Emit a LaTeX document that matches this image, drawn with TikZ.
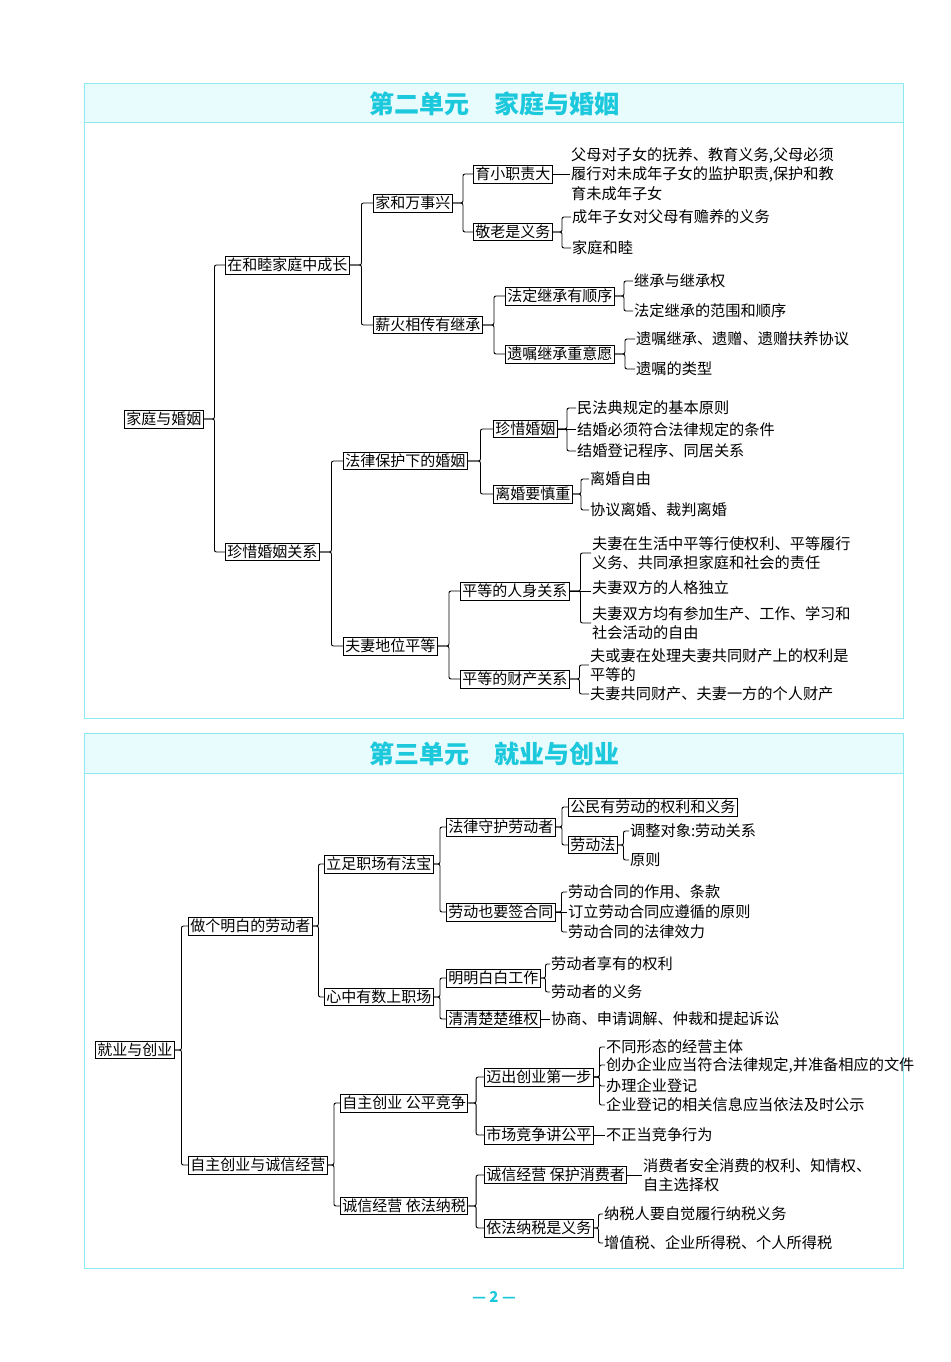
\documentclass[tikz,border=0pt]{standalone}
\usepackage{fontspec}
\setmainfont{Noto Sans CJK SC}
\usetikzlibrary{calc}
\definecolor{cy}{HTML}{1CC8DC}
\definecolor{cyl}{HTML}{8EEAF2}
\definecolor{cyf}{HTML}{E8FBFD}
\tikzset{
 bx/.style={draw,line width=0.9pt,inner xsep=2pt,inner ysep=2pt,anchor=west,font=\fontsize{15}{18}\selectfont},
 lf/.style={inner xsep=1pt,inner ysep=1pt,anchor=west,align=left,font=\fontsize{15.2}{19.5}\selectfont},
 cn/.style={line width=0.9pt,rounded corners=2pt},
}
\newcommand\cnx[2]{\foreach \c in {#2}{\draw[cn] (#1.east) -- ($(#1.east)!0.5!(#1.east -| \c.west)$) |- (\c.west);}}
\newcommand\cnone[2]{\draw[line width=0.9pt] (#1.east) -- (#1.east -| #2.west);}
\begin{document}
\begin{tikzpicture}[x=1pt,y=-1pt]
\useasboundingbox (0,0) rectangle (950,1362);
% frames
\fill[cyf] (84,84) rectangle (903,123);
\draw[cyl,line width=1pt] (84,84) rectangle (903,718) (84,123)--(903,123);
\fill[cyf] (84,733) rectangle (903,773);
\draw[cyl,line width=1pt] (84,733) rectangle (903,1268) (84,773)--(903,773);
\node[text=cy,font=\fontsize{25}{28}\selectfont\bfseries] (t1) at (494,104) {第二单元\quad 家庭与婚姻};
\node[text=cy,font=\fontsize{25}{28}\selectfont\bfseries] (t2) at (494,754) {第三单元\quad 就业与创业};
\node[text=cy,font=\fontsize{15}{18}\selectfont\bfseries] (pg) at (494,1297) {— 2 —};
% section 1
\node[bx] (a) at (124,419) {家庭与婚姻};
\node[bx] (a1) at (225,265) {在和睦家庭中成长};
\node[bx] (a2) at (225,552) {珍惜婚姻关系};
\node[bx] (b1) at (373,203) {家和万事兴};
\node[bx] (b2) at (373,325) {薪火相传有继承};
\node[bx] (c1) at (473,174) {育小职责大};
\node[bx] (c2) at (473,232) {敬老是义务};
\node[lf] (l1) at (570,174) {父母对子女的抚养、教育义务,父母必须\\履行对未成年子女的监护职责,保护和教\\育未成年子女};
\node[lf] (l2) at (571,217) {成年子女对父母有赡养的义务};
\node[lf] (l3) at (571,248) {家庭和睦};
\node[bx] (c3) at (505,296) {法定继承有顺序};
\node[bx] (c4) at (505,354) {遗嘱继承重意愿};
\node[lf] (l4) at (633,281) {继承与继承权};
\node[lf] (l5) at (633,311) {法定继承的范围和顺序};
\node[lf] (l6) at (635,339) {遗嘱继承、遗赠、遗赠扶养协议};
\node[lf] (l7) at (635,369) {遗嘱的类型};
\node[bx] (b3) at (343,461) {法律保护下的婚姻};
\node[bx] (b4) at (343,646) {夫妻地位平等};
\node[bx] (c5) at (493,429) {珍惜婚姻};
\node[bx] (c6) at (493,494) {离婚要慎重};
\node[lf] (l8) at (576,408) {民法典规定的基本原则};
\node[lf] (l9) at (576,430) {结婚必须符合法律规定的条件};
\node[lf] (l10) at (576,451) {结婚登记程序、同居关系};
\node[lf] (l11) at (589,479) {离婚自由};
\node[lf] (l12) at (589,510) {协议离婚、裁判离婚};
\node[bx] (c7) at (460,591) {平等的人身关系};
\node[bx] (c8) at (460,679) {平等的财产关系};
\node[lf] (l13) at (591,553) {夫妻在生活中平等行使权利、平等履行\\义务、共同承担家庭和社会的责任};
\node[lf] (l14) at (591,588) {夫妻双方的人格独立};
\node[lf] (l15) at (591,623) {夫妻双方均有参加生产、工作、学习和\\社会活动的自由};
\node[lf] (l16) at (589,665) {夫或妻在处理夫妻共同财产上的权利是\\平等的};
\node[lf] (l17) at (589,694) {夫妻共同财产、夫妻一方的个人财产};
\cnx{a}{a1,a2}
\cnx{a1}{b1,b2}
\cnx{b1}{c1,c2}
\cnone{c1}{l1}
\cnx{c2}{l2,l3}
\cnx{b2}{c3,c4}
\cnx{c3}{l4,l5}
\cnx{c4}{l6,l7}
\cnx{a2}{b3,b4}
\cnx{b3}{c5,c6}
\cnx{c5}{l8,l10}
\cnone{c5}{l9}
\cnx{c6}{l11,l12}
\cnx{b4}{c7,c8}
\cnx{c7}{l13,l15}
\cnone{c7}{l14}
\cnx{c8}{l16,l17}
% section 2
\node[bx] (A) at (95,1050) {就业与创业};
\node[bx] (A1) at (188,926) {做个明白的劳动者};
\node[bx] (A2) at (188,1165) {自主创业与诚信经营};
\node[bx] (B1) at (324,864) {立足职场有法宝};
\node[bx] (B2) at (324,997) {心中有数上职场};
\node[bx] (C1) at (446,827) {法律守护劳动者};
\node[bx] (C2) at (446,912) {劳动也要签合同};
\node[bx] (D1) at (568,807) {公民有劳动的权利和义务};
\node[bx] (D2) at (568,845) {劳动法};
\node[lf] (L1) at (629,831) {调整对象:劳动关系};
\node[lf] (L2) at (629,860) {原则};
\node[lf] (L3) at (567,892) {劳动合同的作用、条款};
\node[lf] (L4) at (567,912) {订立劳动合同应遵循的原则};
\node[lf] (L5) at (567,932) {劳动合同的法律效力};
\node[bx] (C3) at (446,978) {明明白白工作};
\node[bx] (C4) at (446,1019) {清清楚楚维权};
\node[lf] (L6) at (550,964) {劳动者享有的权利};
\node[lf] (L7) at (550,992) {劳动者的义务};
\node[lf] (L8) at (550,1019) {协商、申请调解、仲裁和提起诉讼};
\node[bx] (B3) at (340,1103) {自主创业\ 公平竞争};
\node[bx] (B4) at (340,1206) {诚信经营\ 依法纳税};
\node[bx] (C5) at (484,1077) {迈出创业第一步};
\node[bx] (C6) at (484,1135) {市场竞争讲公平};
\node[lf] (L9) at (605,1047) {不同形态的经营主体};
\node[lf] (L10) at (605,1065) {创办企业应当符合法律规定,并准备相应的文件};
\node[lf] (L11) at (605,1086) {办理企业登记};
\node[lf] (L12) at (605,1105) {企业登记的相关信息应当依法及时公示};
\node[lf] (L13) at (605,1135) {不正当竞争行为};
\node[bx] (C7) at (484,1175) {诚信经营\ 保护消费者};
\node[bx] (C8) at (484,1228) {依法纳税是义务};
\node[lf] (L14) at (642,1175) {消费者安全消费的权利、知情权、\\自主选择权};
\node[lf] (L15) at (603,1214) {纳税人要自觉履行纳税义务};
\node[lf] (L16) at (603,1243) {增值税、企业所得税、个人所得税};
\cnx{A}{A1,A2}
\cnx{A1}{B1,B2}
\cnx{B1}{C1,C2}
\cnx{C1}{D1,D2}
\cnx{D2}{L1,L2}
\cnx{C2}{L3,L5}
\cnone{C2}{L4}
\cnx{B2}{C3,C4}
\cnx{C3}{L6,L7}
\cnone{C4}{L8}
\cnx{A2}{B3,B4}
\cnx{B3}{C5,C6}
\cnx{C5}{L9,L10,L11,L12}
\cnone{C6}{L13}
\cnx{B4}{C7,C8}
\cnone{C7}{L14}
\cnx{C8}{L15,L16}
\end{tikzpicture}
\end{document}
